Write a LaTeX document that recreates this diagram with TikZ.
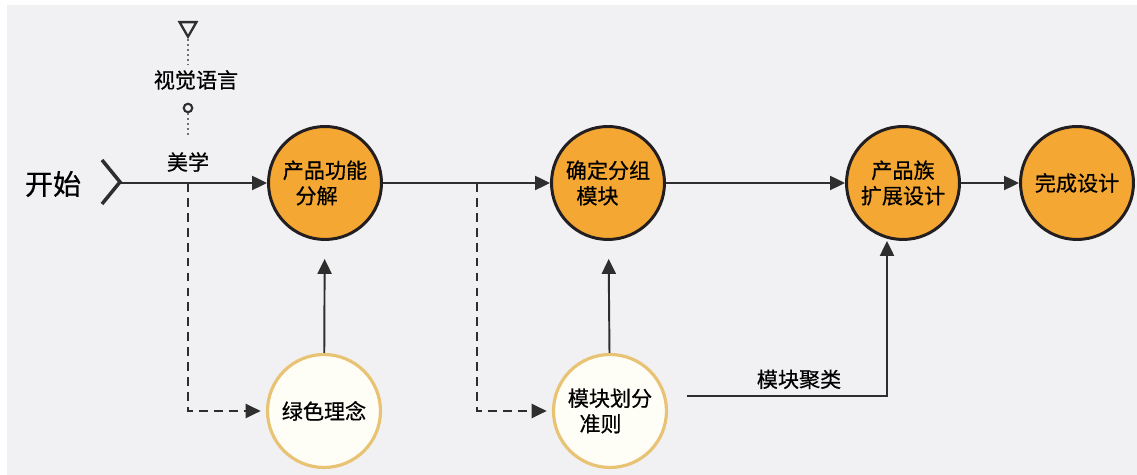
\documentclass[tikz,border=0pt]{standalone}
\usepackage{fontspec}
\newfontfamily\cjk[FakeBold=0.6]{Noto Sans CJK SC}
\usetikzlibrary{arrows.meta,shapes.geometric}
\definecolor{bggray}{HTML}{F1F0F2}
\definecolor{steporange}{HTML}{F5A733}
\definecolor{ringdark}{HTML}{231F20}
\definecolor{softfill}{HTML}{FEFDF6}
\definecolor{softring}{HTML}{E9C374}
\definecolor{linegray}{HTML}{2E2E2E}
\definecolor{dotgray}{HTML}{707070}
\tikzset{
  mainstep/.style={circle, draw=ringdark, line width=1.7pt, fill=steporange,
    minimum size=2.26cm, inner sep=0pt, align=left,
    font=\cjk\fontsize{12}{14.5}\selectfont},
  substep/.style={mainstep, draw=softring, line width=1.8pt, fill=softfill},
  lbl/.style={font=\cjk\fontsize{12}{14.5}\selectfont, text=black},
  flow/.style={draw=linegray, line width=1.1pt, -{Triangle[length=8.5pt,width=8pt]}},
  dashflow/.style={flow, dash pattern=on 5pt off 3.5pt},
  dotline/.style={draw=dotgray, line width=0.8pt, dash pattern=on 1.2pt off 1.6pt},
}
\begin{document}
\begin{tikzpicture}[x=0.02cm,y=-0.02cm]
  \useasboundingbox (0,0) rectangle (1137,475);
  \fill[white] (0,0) rectangle (1137,475);
  \fill[bggray] (7,5) rectangle (1137,475);

  % start
  \node[font=\cjk\fontsize{16}{18}\selectfont] (start) at (53,184) {开始};
  \draw[linegray, line width=2pt] (102,160) -- (120,182) -- (102,204);
  \coordinate (go) at (121,183);

  % main steps
  \node[mainstep] (func) at (325,183) {产品功能\\\hspace*{0.6em}分解};
  \node[mainstep] (group) at (608,183) {确定分组\\\hspace*{0.5em}模块};
  \node[mainstep, align=center] (family) at (903,183) {产品族\\扩展设计};
  \node[mainstep] (done) at (1077,183) {完成设计};

  % inputs
  \node[substep] (green) at (324,411) {绿色理念};
  \node[substep] (crit) at (610,411) {模块划分\\\hspace*{0.55em}准则};

  % markers above
  \node[regular polygon, regular polygon sides=3, shape border rotate=180,
    draw=linegray, line width=1.3pt, minimum size=0.39cm, inner sep=0pt] (eye) at (188,27) {};
  \node[lbl] (vis) at (196,80) {视觉语言};
  \node[circle, draw=linegray, line width=1.2pt, minimum size=0.17cm, inner sep=0pt] (ring) at (188,108) {};
  \node[lbl] (aes) at (188,162) {美学};
  \draw[dotline] (eye.south) -- (eye.south |- vis.north);
  \draw[dotline, shorten >=6pt] (ring.south) -- (ring.south |- aes.north);

  % main line
  \coordinate (br1) at (188,183);
  \coordinate (br2) at (477,183);
  \draw[flow] (go) -- (func);
  \draw[flow] (func) -- (group);
  \draw[flow] (group) -- (family);
  \draw[flow] (family) -- (done);

  % branches
  \draw[dashflow, shorten >=3pt] (br1) |- (green);
  \draw[dashflow, shorten >=3pt] (br2) |- (crit);
  \draw[flow, shorten >=0.36cm] (green) -- (func);
  \draw[flow, shorten >=0.36cm] (crit) -- (group);
  \draw[flow] ([shift={(0.38cm,0.3cm)}]crit.east) -| ([xshift=-0.32cm]family.south)
    node[lbl, pos=0.28, above] {模块聚类};
\end{tikzpicture}
\end{document}
